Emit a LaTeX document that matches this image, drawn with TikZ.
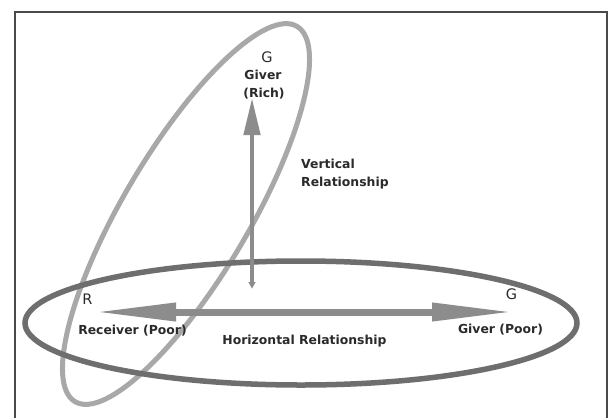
\documentclass[tikz,border=0pt]{standalone}
\usepackage{fontspec}
\setmainfont{DejaVu Sans}
\usetikzlibrary{arrows.meta}
\definecolor{hringc}{HTML}{6E6E6E}
\definecolor{vringc}{HTML}{A8A8A8}
\definecolor{arrowc}{HTML}{8C8C8C}
\definecolor{txtc}{HTML}{2A2A2A}
\definecolor{framec}{HTML}{4A4A4A}
\begin{document}
\begin{tikzpicture}[x=1pt,y=-1pt,
  lbl/.style={font=\bfseries\fontsize{12.4}{14}\selectfont, text=txtc, inner sep=0pt, anchor=base},
  letter/.style={font=\fontsize{14.5}{16}\selectfont, text=txtc, inner sep=0pt, anchor=base},
  frameline/.style={draw=framec, line width=1.8pt},
  hring/.style={draw=hringc, line width=5.5pt},
  vring/.style={draw=vringc, line width=5pt},
  harrow/.style={draw=arrowc, line width=7pt, {Triangle[length=82pt,width=17pt]}-{Triangle[length=82pt,width=17pt]}},
  varrow/.style={draw=arrowc, line width=4.5pt, {Triangle[length=14pt,width=4.5pt]}-{Triangle[length=37pt,width=16pt]}}
]
\useasboundingbox (0,0) rectangle (610,418);
\fill[white] (0,0) rectangle (610,418);
% frame
\draw[frameline] (15,418) -- (15,12) -- (607,12) -- (607,418);
% tilted ellipse (vertical relationship)
\draw[vring, rotate around={59.4:(186,214)}] (186,214) ellipse [x radius=218pt, y radius=63pt];
% horizontal ellipse
\draw[hring] (301,323) ellipse [x radius=276pt, y radius=62pt];
% arrows
\coordinate (hl) at (94,312);
\coordinate (hr) at (514,312);
\coordinate (vb) at (252,296);
\coordinate (vt) at (252,98);
\draw[harrow] (hl) -- (hr);
\draw[varrow] (vb) -- (vt);
% labels
\node[letter] (gtop) at (267,62) {G};
\node[lbl] (givertop) at (263,79) {Giver};
\node[lbl] (rich) at (264,97) {(Rich)};
\node[lbl, anchor=base west] (vert) at (301,168) {Vertical};
\node[lbl, anchor=base west] (vrel) at (301,186) {Relationship};
\node[letter] (rlet) at (87.5,304) {R};
\node[letter] (gright) at (511.5,299) {G};
\node[lbl] (recv) at (132.5,334) {Receiver (Poor)};
\node[lbl] (hrel) at (304.5,344) {Horizontal Relationship};
\node[lbl] (gpoor) at (500.5,333) {Giver (Poor)};
\end{tikzpicture}
\end{document}
